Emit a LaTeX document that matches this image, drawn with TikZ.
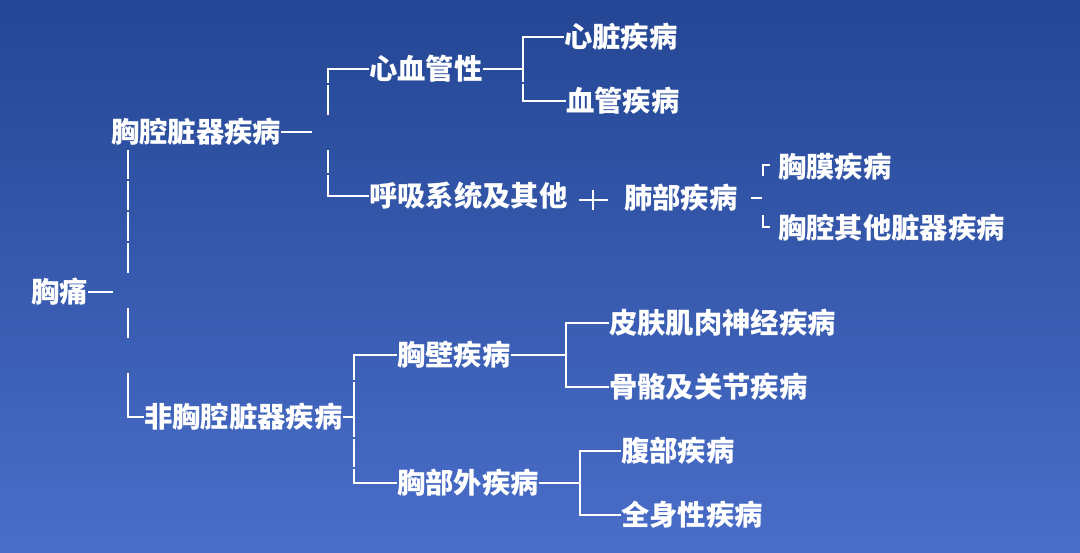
\documentclass[tikz,border=0pt]{standalone}
\usepackage{fontspec}
\newfontfamily\cjk{Noto Sans CJK SC}
\definecolor{bgtop}{RGB}{36,70,148}
\definecolor{bgbot}{RGB}{74,110,201}

\begin{document}
\begin{tikzpicture}[x=1pt,y=-1pt,
  lbl/.style={anchor=west,inner sep=0pt,text=white,font=\cjk\bfseries\fontsize{28.3}{30}\selectfont},
  link/.style={draw=white,line width=2.9pt},
  tick/.style={draw=white,line width=2.2pt}]
\fill [top color=bgtop,bottom color=bgbot] (0,0) rectangle (1080,553) ;

\node [lbl] (pain) at (31,292) {胸痛} ;
\node [lbl] (cav) at (111,132) {胸腔脏器疾病} ;
\node [lbl] (noncav) at (144,417) {非胸腔脏器疾病} ;
\node [lbl] (cardio) at (369,69) {心血管性} ;
\node [lbl] (resp) at (369,196) {呼吸系统及其他} ;
\node [lbl] (heart) at (564,37) {心脏疾病} ;
\node [lbl] (vessel) at (566,101) {血管疾病} ;
\node [lbl] (lung) at (624,198) {肺部疾病} ;
\node [lbl] (pleura) at (778,167) {胸膜疾病} ;
\node [lbl] (other) at (778,228) {胸腔其他脏器疾病} ;
\node [lbl] (wall) at (397,355) {胸壁疾病} ;
\node [lbl] (extra) at (397,483) {胸部外疾病} ;
\node [lbl] (skin) at (609,323) {皮肤肌肉神经疾病} ;
\node [lbl] (bone) at (609,387) {骨骼及关节疾病} ;
\node [lbl] (abd) at (621,451) {腹部疾病} ;
\node [lbl] (whole) at (621,515) {全身性疾病} ;

\coordinate (trunk) at (128,150) ;
\coordinate (painend) at (113,0) ;
\coordinate (cavend) at (312,0) ;
\coordinate (brkA) at (328,0) ;
\coordinate (brkB) at (523,0) ;
\coordinate (join) at (593,200) ;
\coordinate (brkC) at (762,0) ;
\coordinate (brkD) at (354,0) ;
\coordinate (brkE) at (566,0) ;
\coordinate (brkF) at (580,0) ;

\draw [link] (pain.east) -- (pain.east -| painend) ;
\draw [link,dash pattern=on 29pt off 2pt on 29pt off 2pt on 29pt off 2pt on 30pt off 35pt on 30pt off 35pt on 120pt] (trunk) |- (noncav.west) ;
\draw [link] (cav.east) -- (cav.east -| cavend) ;
\draw [link,dash pattern=on 55pt off 2pt on 30pt off 35pt on 23pt off 2pt on 80pt] (cardio.west) -| (resp.west -| brkA) -- (resp.west) ;
\draw [link] (cardio.east) -- (cardio.east -| brkB) ;
\draw [link,dash pattern=on 86pt off 2pt on 200pt] (heart.west) -| (vessel.west -| brkB) -- (vessel.west) ;
\draw [link] ([xshift=-14.5pt]join) -- ([xshift=14.5pt]join) ;
\draw [link] ([yshift=-10pt]join) -- ([yshift=10pt]join) ;
\draw [tick,shorten <=13pt] (lung.east) -- (lung.east -| brkC) ;
\draw [tick] ([shift={(-15,9)}]pleura.west) -- ([shift={(-15,-2)}]pleura.west) -- ([shift={(-8,-2)}]pleura.west) ;
\draw [tick] ([shift={(-15,-13)}]other.west) -- ([shift={(-15,-1)}]other.west) -- ([shift={(-8,-1)}]other.west) ;
\draw [link] (noncav.east) -- (noncav.east -| brkD) ;
\draw [link,dash pattern=on 68pt off 2pt on 55pt off 2pt on 28pt off 2pt on 100pt] (wall.west) -| (extra.west -| brkD) -- (extra.west) ;
\draw [link] (wall.east) -- (wall.east -| brkE) ;
\draw [link] (skin.west) -| (bone.west -| brkE) -- (bone.west) ;
\draw [link] (extra.east) -- (extra.east -| brkF) ;
\draw [link] (abd.west) -| (whole.west -| brkF) -- (whole.west) ;

\end{tikzpicture}
\end{document}
